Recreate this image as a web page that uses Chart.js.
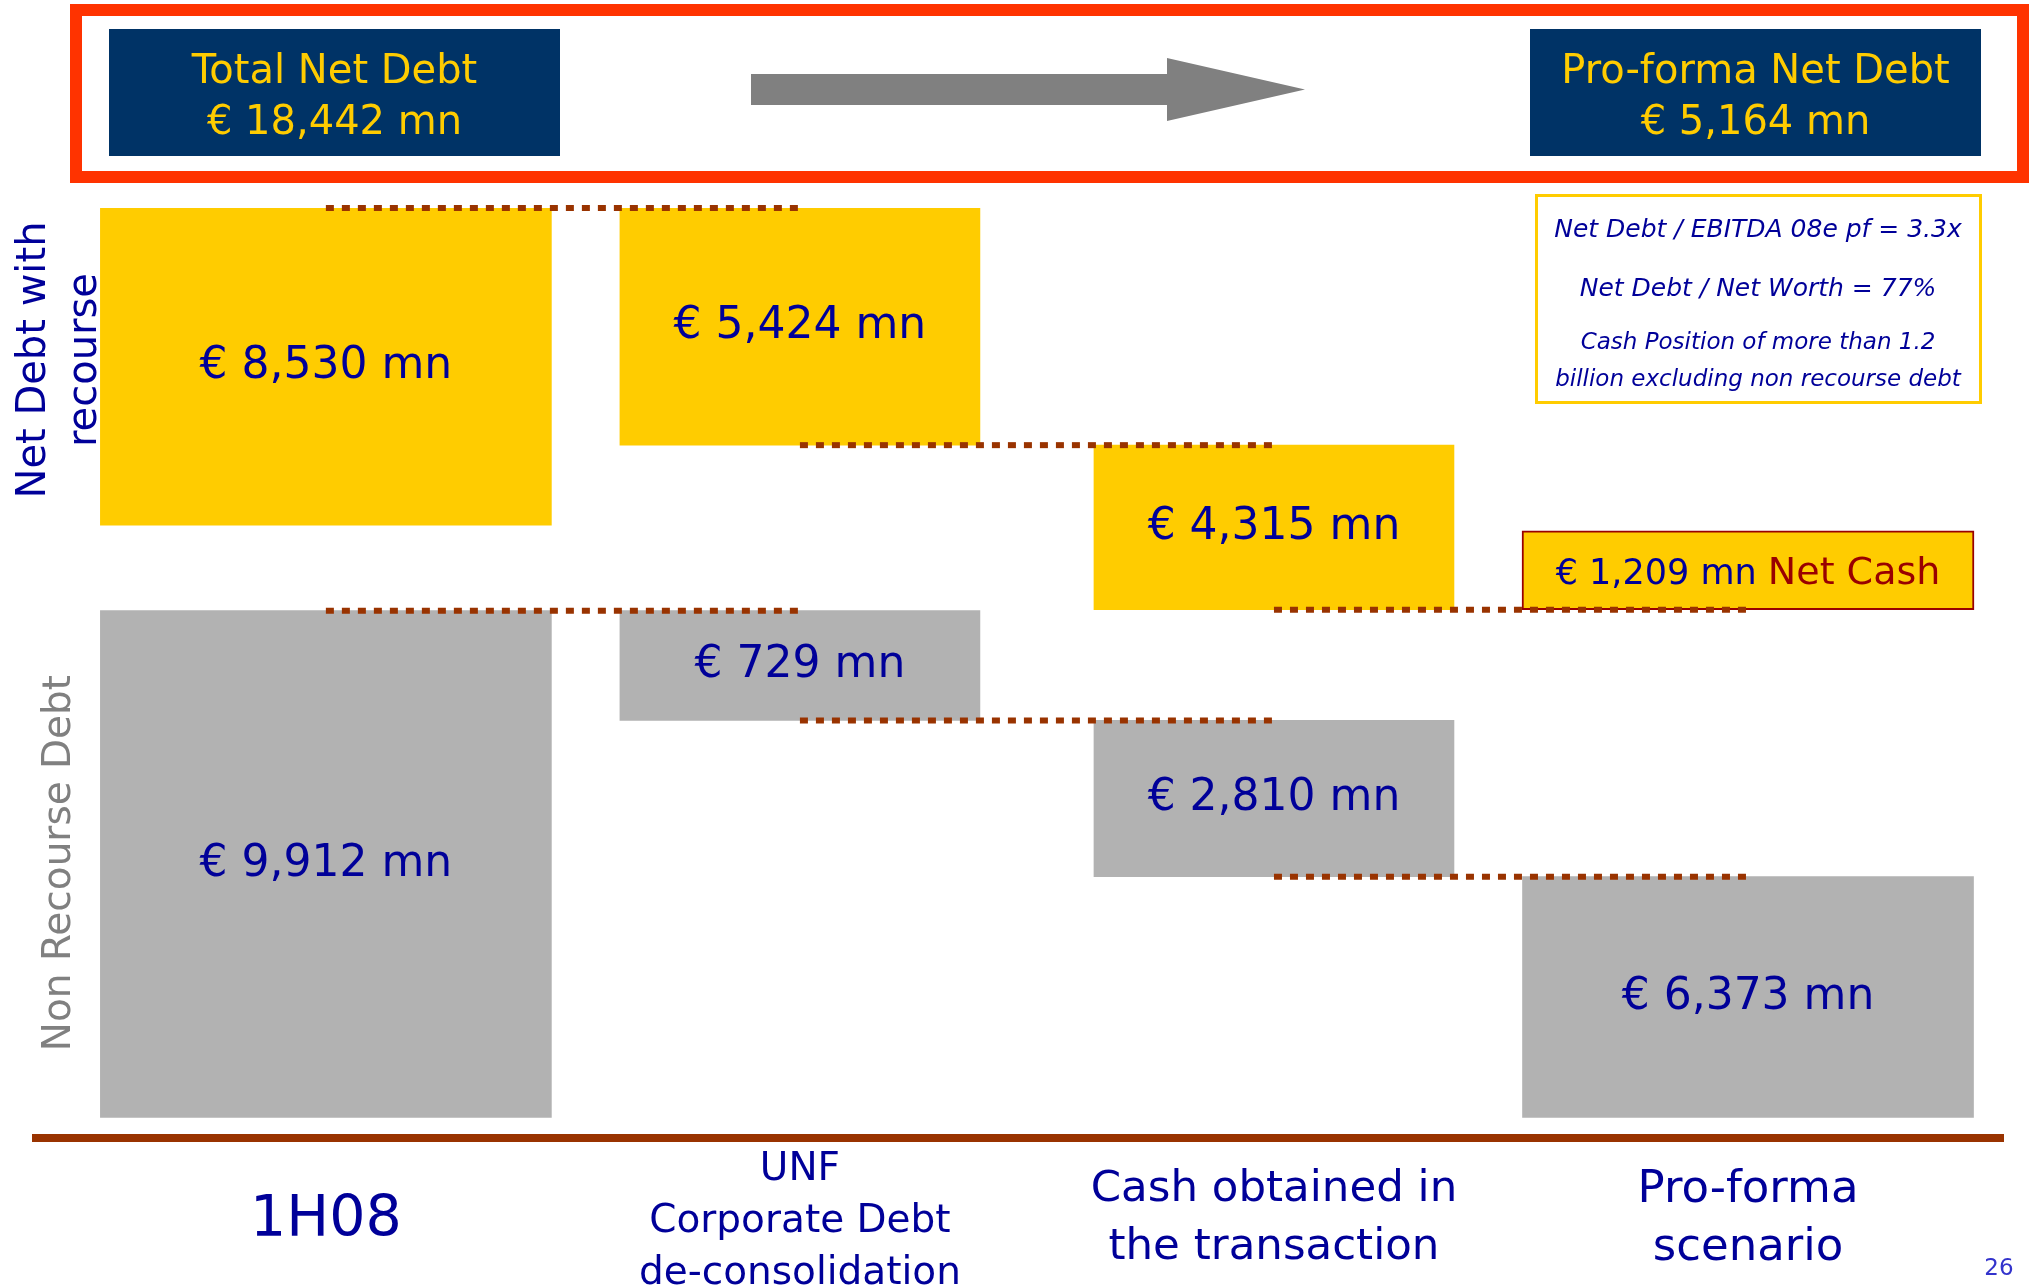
<!DOCTYPE html>
<html>
<head>
<meta charset="utf-8">
<script src="https://cdn.jsdelivr.net/npm/chart.js@4.4.1/dist/chart.umd.min.js"></script>
<style>
  html, body { margin: 0; padding: 0; background: #ffffff; }
  #wrap { width: 2031px; height: 1287px; position: relative; }
</style>
</head>
<body>
<div id="wrap"><canvas id="chart"></canvas></div>
<script>
// ---------------- data ----------------
const categories = [
  ['1H08'],
  ['UNF', 'Corporate Debt', 'de-consolidation'],
  ['Cash obtained in', 'the transaction'],
  ['Pro-forma', 'scenario']
];
const recourseDebt    = [8530, 5424, 4315, null];   // € mn – Net Debt with recourse
const nonRecourseDebt = [9912, 729, 2810, 6373];    // € mn – Non Recourse Debt
const netCash         = [null, null, null, 1209];   // € mn – Net Cash
const totalNetDebt    = 18442;                      // € mn
const proFormaNetDebt = 5164;                       // € mn
const ratioNotes = [
  'Net Debt / EBITDA 08e pf = 3.3x',
  'Net Debt / Net Worth = 77%',
  'Cash Position of more than 1.2',
  'billion excluding non recourse debt'
];
// The slide is a schematic waterfall that is not drawn to scale:
// floating-bar extents in slide units (0–100).
const recourseLevels    = [[65.9, 100], [74.5, 100], [56.8, 74.5], null];
const nonRecourseLevels = [[2.2, 56.7], [44.9, 56.7], [28.1, 44.9], [2.2, 28.1]];
const netCashLevels     = [null, null, null, [56.8, 65.3]];

// ---------------- styling ----------------
const FONT = '"DejaVu Sans", "Verdana", sans-serif';
const YELLOW = '#FFCC00', GREY = '#B2B2B2', NAVY_TXT = '#000099', BROWN = '#993300';
const wideColumns = [0, 3];
const WIDE = 451, NARROW = 360;
const tickFonts = [
  { size: 57, lineHeight: 0.95 },
  { size: 39, lineHeight: 52 / 39 },
  { size: 43.5, lineHeight: 58 / 43.5 },
  { size: 45, lineHeight: 58 / 45 }
];

const fmt = v => '€ ' + v.toLocaleString('en-US') + ' mn';

function barData(levels, keep) {
  return levels.map((r, i) => (r && keep(i)) ? { x: i, y: r } : null).filter(Boolean);
}
function barSet(label, levels, values, color, thickness, keep, extra) {
  return Object.assign({
    type: 'bar', label, data: barData(levels, keep), values,
    backgroundColor: color, borderWidth: 0, barThickness: thickness,
    grouped: false, order: 1
  }, extra || {});
}

// connectors: the level where one column hands over to the next
const connectors = [];
[recourseLevels, nonRecourseLevels].forEach(levels => {
  for (let i = 0; i < categories.length - 1; i++) {
    const cur = levels[i];
    if (!cur) continue;
    const lvl = i === 0 ? cur[1] : cur[0];
    connectors.push({
      type: 'line', label: 'connector', data: [{ x: i, y: lvl }, { x: i + 1, y: lvl }],
      borderColor: BROWN, borderWidth: 6, borderDash: [8, 8], borderCapStyle: 'butt',
      pointRadius: 0, fill: false, clip: false, order: 0
    });
  }
});

const isWide = i => wideColumns.includes(i);
const datasets = [
  ...connectors,
  barSet('Net Debt with recourse', recourseLevels, recourseDebt, YELLOW, WIDE, isWide),
  barSet('Net Debt with recourse', recourseLevels, recourseDebt, YELLOW, NARROW, i => !isWide(i)),
  barSet('Non Recourse Debt', nonRecourseLevels, nonRecourseDebt, GREY, WIDE, isWide),
  barSet('Non Recourse Debt', nonRecourseLevels, nonRecourseDebt, GREY, NARROW, i => !isWide(i)),
  barSet('Net Cash', netCashLevels, netCash, YELLOW, 452, () => true,
    { borderWidth: 2, borderColor: '#990000', borderSkipped: false, isNetCash: true })
];

// ---------------- decorations plugin ----------------
const slideDecor = {
  id: 'slideDecor',
  afterDatasetsDraw(chart) {
    const ctx = chart.ctx;
    ctx.save();
    chart.data.datasets.forEach((ds, di) => {
      if (!ds.values) return;
      const meta = chart.getDatasetMeta(di);
      meta.data.forEach((el, j) => {
        const idx = ds.data[j].x;
        const v = ds.values[idx];
        if (v == null) return;
        const cy = (el.y + el.base) / 2;
        if (ds.isNetCash) {
          const a = fmt(v) + ' ', b = 'Net Cash';
          ctx.font = '35px ' + FONT;
          const wa = ctx.measureText(a).width;
          ctx.font = '38px ' + FONT;
          const wb = ctx.measureText(b).width;
          const x0 = el.x - (wa + wb) / 2;
          ctx.textAlign = 'left'; ctx.textBaseline = 'alphabetic';
          ctx.font = '35px ' + FONT; ctx.fillStyle = NAVY_TXT;
          ctx.fillText(a, x0, cy + 14);
          ctx.font = '38px ' + FONT; ctx.fillStyle = '#990000';
          ctx.fillText(b, x0 + wa, cy + 14);
        } else {
          ctx.font = '44px ' + FONT;
          ctx.fillStyle = NAVY_TXT;
          ctx.textAlign = 'center'; ctx.textBaseline = 'middle';
          ctx.fillText(fmt(v), el.x, cy);
        }
      });
    });
    ctx.restore();
  },
  afterDraw(chart) {
    const ctx = chart.ctx;
    ctx.save();
    // red frame
    ctx.strokeStyle = '#FF3300'; ctx.lineWidth = 12;
    ctx.strokeRect(76, 10, 1947, 167);
    // navy boxes
    ctx.fillStyle = '#003366';
    ctx.fillRect(109, 29, 451, 127);
    ctx.fillRect(1530, 29, 451, 127);
    ctx.fillStyle = YELLOW; ctx.font = '40px ' + FONT;
    ctx.textAlign = 'center'; ctx.textBaseline = 'alphabetic';
    ctx.fillText('Total Net Debt', 334.5, 83);
    ctx.fillText(fmt(totalNetDebt), 334.5, 134);
    ctx.fillText('Pro-forma Net Debt', 1755.5, 83);
    ctx.fillText(fmt(proFormaNetDebt), 1755.5, 134);
    // arrow
    ctx.fillStyle = '#808080';
    ctx.beginPath();
    ctx.moveTo(751, 74); ctx.lineTo(1167, 74); ctx.lineTo(1167, 58); ctx.lineTo(1305, 89.5);
    ctx.lineTo(1167, 121); ctx.lineTo(1167, 105); ctx.lineTo(751, 105); ctx.closePath();
    ctx.fill();
    // info box
    ctx.strokeStyle = YELLOW; ctx.lineWidth = 3;
    ctx.strokeRect(1536.5, 195.5, 444, 207);
    ctx.fillStyle = NAVY_TXT;
    const notePos = [[237, 25], [296, 25], [349, 23], [386, 23]];
    ratioNotes.forEach((t, k) => {
      ctx.font = 'italic ' + notePos[k][1] + 'px ' + FONT;
      ctx.fillText(t, 1758, notePos[k][0]);
    });
    // side titles (rotated)
    const rot = (text, x, y, font, color) => {
      ctx.save(); ctx.translate(x, y); ctx.rotate(-Math.PI / 2);
      ctx.font = font; ctx.fillStyle = color; ctx.textAlign = 'center'; ctx.textBaseline = 'alphabetic';
      ctx.fillText(text, 0, 0); ctx.restore();
    };
    rot('Net Debt with', 45, 360, '40px ' + FONT, NAVY_TXT);
    rot('recourse', 96, 360, '40px ' + FONT, NAVY_TXT);
    rot('Non Recourse Debt', 70, 863, '39px ' + FONT, '#808080');
    // page number
    ctx.font = '23px ' + FONT; ctx.fillStyle = '#3333CC'; ctx.textAlign = 'center';
    ctx.fillText('26', 1999, 1275);
    ctx.restore();
  }
};

Chart.defaults.font.family = FONT;

new Chart(document.getElementById('chart'), {
  type: 'bar',
  data: { datasets },
  options: {
    responsive: true,
    maintainAspectRatio: false,
    animation: false,
    events: [],
    layout: { padding: { left: 36, right: 28, top: 208, bottom: 0 } },
    plugins: { legend: { display: false }, tooltip: { enabled: false } },
    scales: {
      x: {
        type: 'linear',
        offset: false,
        min: -0.6115,
        max: 3.5379,
        grid: { display: false, drawTicks: false, offset: false },
        border: { display: true, color: BROWN, width: 8 },
        afterBuildTicks: scale => { scale.ticks = categories.map((_, i) => ({ value: i })); },
        afterFit: scale => { scale.height = 149; },
        ticks: {
          autoSkip: false, maxRotation: 0, minRotation: 0,
          crossAlign: 'center', padding: 32,
          color: NAVY_TXT,
          font: c => Object.assign({ family: FONT }, tickFonts[c.index] || tickFonts[0]),
          callback: (value, index) => categories[index]
        }
      },
      y: {
        type: 'linear', display: false, min: 0, max: 100,
        grid: { display: false }
      }
    }
  },
  plugins: [slideDecor]
});
</script>
</body>
</html>
